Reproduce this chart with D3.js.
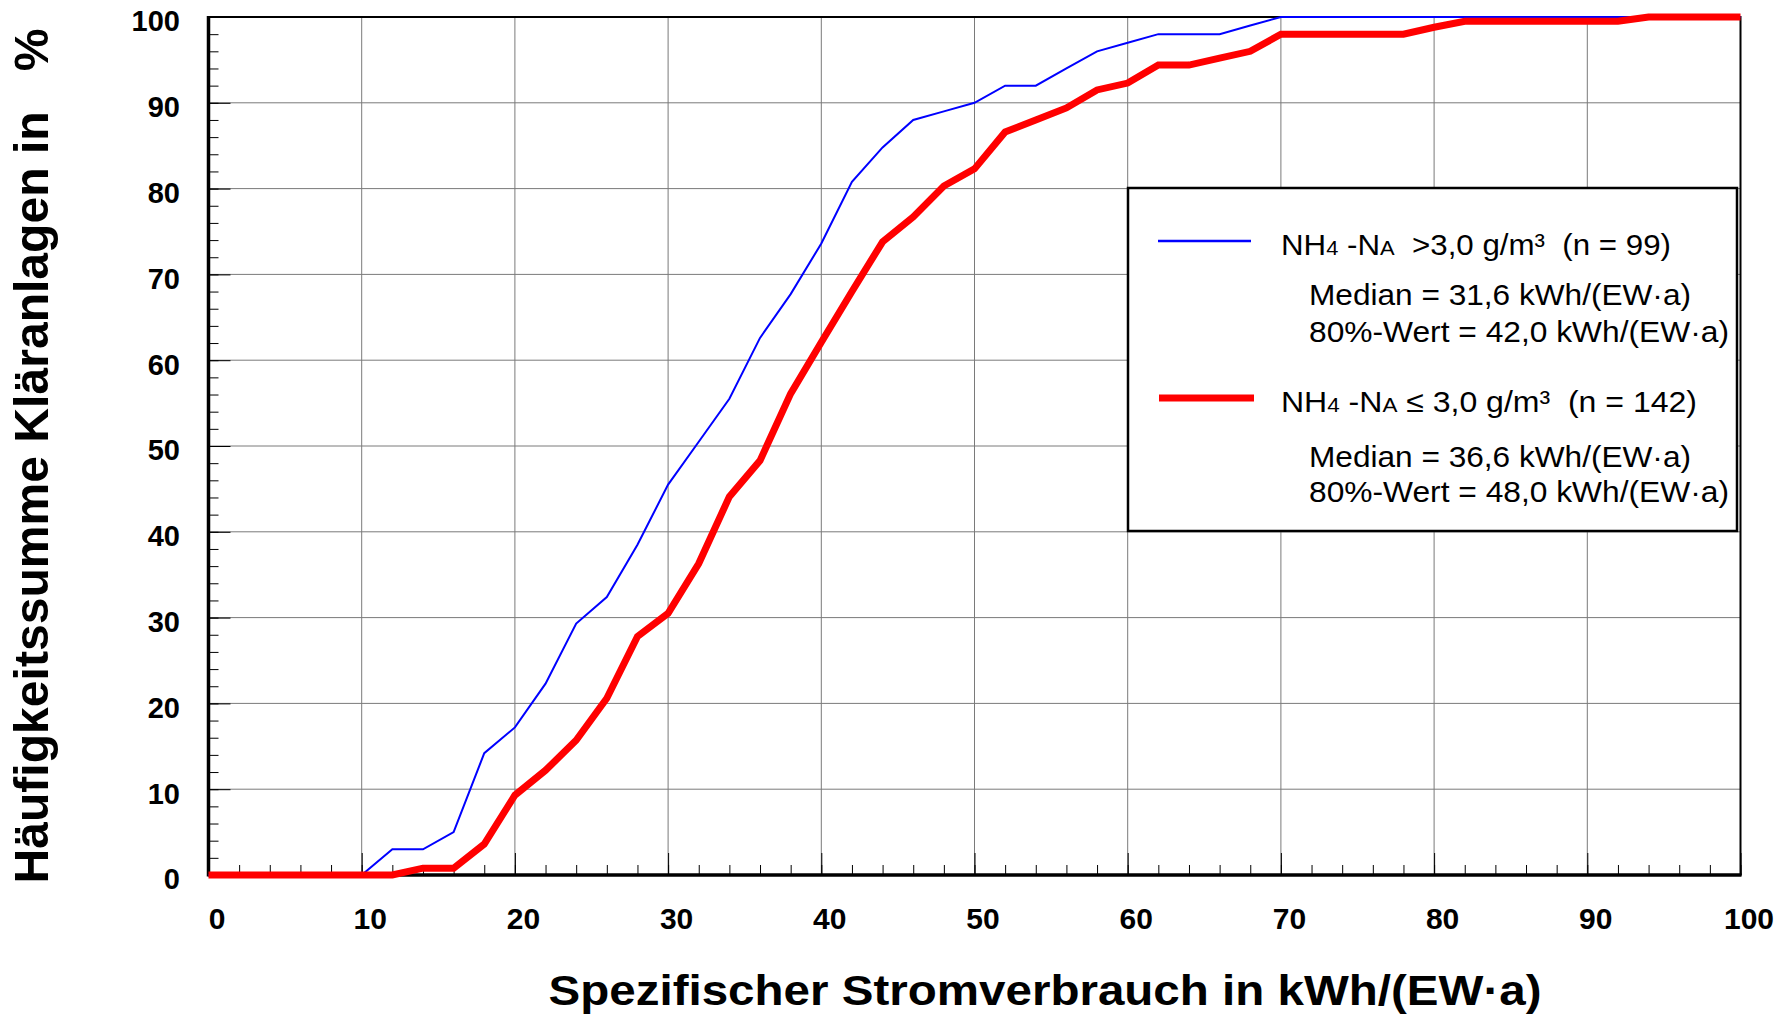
<!DOCTYPE html>
<html>
<head>
<meta charset="utf-8">
<script src="https://cdn.jsdelivr.net/npm/d3@7"></script>
<style>
  body { margin: 0; background: #fff; }
  svg text { font-family: "Liberation Sans", Arial, sans-serif; white-space: pre; }
</style>
</head>
<body>
<script>
// x positions of the points (kWh/(EW·a))
var xValues = [0, 2, 4, 6, 8, 10, 12, 14, 16, 18, 20, 22, 24, 26, 28, 30, 32, 34, 36, 38, 40,
               42, 44, 46, 48, 50, 52, 54, 56, 58, 60, 62, 64, 66, 68, 70, 72, 74, 76, 78, 80,
               82, 84, 86, 88, 90, 92, 94, 96, 98, 100];

// NH4-N > 3,0 g/m³ (n = 99)
var blueValues = [0, 0, 0, 0, 0, 0, 3, 3, 5, 14.2, 17.2, 22.3, 29.3, 32.4, 38.5, 45.5, 50.5, 55.5, 62.6, 67.7, 73.6,
                  80.8, 84.8, 88, 89, 90, 92, 92, 94, 96, 97, 98, 98, 98, 99, 100, 100, 100, 100, 100, 100,
                  100, 100, 100, 100, 100, 100, 100, 100, 100, 100];

// NH4-N <= 3,0 g/m³ (n = 142)
var redValues = [0, 0, 0, 0, 0, 0, 0, 0.8, 0.8, 3.6, 9.3, 12.2, 15.7, 20.6, 27.8, 30.5, 36.3, 44.1, 48.3, 56.1, 62.1,
                 68, 73.8, 76.7, 80.3, 82.3, 86.6, 88, 89.4, 91.5, 92.3, 94.4, 94.4, 95.2, 96, 98, 98, 98, 98, 98, 98.8,
                 99.5, 99.5, 99.5, 99.5, 99.5, 99.5, 100, 100, 100, 100];

var xTicks = [0, 10, 20, 30, 40, 50, 60, 70, 80, 90, 100];
var yTicks = [0, 10, 20, 30, 40, 50, 60, 70, 80, 90, 100];
var minorTicks = [0, 2, 4, 6, 8, 10, 12, 14, 16, 18, 20, 22, 24, 26, 28, 30, 32, 34, 36, 38, 40,
                  42, 44, 46, 48, 50, 52, 54, 56, 58, 60, 62, 64, 66, 68, 70, 72, 74, 76, 78, 80,
                  82, 84, 86, 88, 90, 92, 94, 96, 98, 100];

var W = 1787, H = 1016;
var pLeft = 208.5, pRight = 1740.5, pTop = 17, pBottom = 875;

var svg = d3.select("body").append("svg")
    .attr("width", W)
    .attr("height", H);

var x = d3.scaleLinear().domain([0, 100]).range([pLeft, pRight]);
var y = d3.scaleLinear().domain([0, 100]).range([pBottom, pTop]);

// -- grid --
var grid = svg.append("g").attr("stroke", "#7a7a7a").attr("stroke-width", 1);
grid.selectAll(".gx").data(xTicks).enter().append("line")
    .attr("x1", d => x(d)).attr("x2", d => x(d))
    .attr("y1", pTop).attr("y2", pBottom);
grid.selectAll(".gy").data(yTicks).enter().append("line")
    .attr("x1", pLeft).attr("x2", pRight)
    .attr("y1", d => y(d)).attr("y2", d => y(d));

// -- minor ticks (inside) --
svg.append("g")
    .attr("transform", "translate(0," + pBottom + ")")
    .call(d3.axisBottom(x).tickValues(minorTicks).tickSize(-10).tickFormat(""))
    .call(g => g.select(".domain").remove());
svg.append("g")
    .attr("transform", "translate(" + pLeft + ",0)")
    .call(d3.axisLeft(y).tickValues(minorTicks).tickSize(-10).tickFormat(""))
    .call(g => g.select(".domain").remove());

// -- major ticks + labels --
var xAxis = svg.append("g")
    .attr("transform", "translate(0," + pBottom + ")")
    .call(d3.axisBottom(x).tickValues(xTicks).tickSize(-22).tickPadding(32.5));
xAxis.select(".domain").remove();
xAxis.selectAll("text")
    .attr("font-size", 30)
    .attr("font-weight", "bold")
    .attr("font-family", "Liberation Sans")
    .attr("dx", 8)
    .attr("fill", "#000");

var yAxis = svg.append("g")
    .attr("transform", "translate(" + pLeft + ",0)")
    .call(d3.axisLeft(y).tickValues(yTicks).tickSize(-22).tickPadding(28.5));
yAxis.select(".domain").remove();
yAxis.selectAll("text")
    .attr("font-size", 29)
    .attr("font-weight", "bold")
    .attr("font-family", "Liberation Sans")
    .attr("dy", "0.48em")
    .attr("fill", "#000");

svg.selectAll(".tick line").attr("stroke", "#000").attr("stroke-width", 1);

// -- frame --
svg.append("rect")
    .attr("x", pLeft).attr("y", pTop)
    .attr("width", pRight - pLeft).attr("height", pBottom - pTop)
    .attr("fill", "none").attr("stroke", "#000").attr("stroke-width", 2);
svg.append("line").attr("x1", pLeft).attr("x2", pLeft).attr("y1", pTop - 1).attr("y2", pBottom + 1.5)
    .attr("stroke", "#000").attr("stroke-width", 3.5);
svg.append("line").attr("x1", pLeft).attr("x2", pRight + 1).attr("y1", pBottom).attr("y2", pBottom)
    .attr("stroke", "#000").attr("stroke-width", 3.5);

// -- lines --
var line = d3.line()
    .x((d, i) => x(xValues[i]))
    .y(d => y(d));

svg.append("path")
    .datum(blueValues)
    .attr("d", line)
    .attr("fill", "none")
    .attr("stroke", "#0000ff")
    .attr("stroke-width", 2);

svg.append("path")
    .datum(redValues)
    .attr("d", line)
    .attr("fill", "none")
    .attr("stroke", "#ff0000")
    .attr("stroke-width", 7)
    .attr("stroke-linejoin", "miter");

// -- legend --
var lg = svg.append("g");
lg.append("rect")
    .attr("x", 1128).attr("y", 188)
    .attr("width", 609).attr("height", 343)
    .attr("fill", "#fff").attr("stroke", "#000").attr("stroke-width", 2.5);

lg.append("line").attr("x1", 1158).attr("x2", 1251).attr("y1", 241).attr("y2", 241)
    .attr("stroke", "#0000ff").attr("stroke-width", 2.5);
lg.append("line").attr("x1", 1159).attr("x2", 1254).attr("y1", 398).attr("y2", 398)
    .attr("stroke", "#ff0000").attr("stroke-width", 7);

function nhLabel(yPos, rest, len) {
    var t = lg.append("text")
        .attr("x", 1281).attr("y", yPos)
        .attr("font-size", 30)
        .attr("textLength", len)
        .attr("lengthAdjust", "spacingAndGlyphs");
    t.append("tspan").text("NH");
    t.append("tspan").attr("font-size", 21).text("4");
    t.append("tspan").text(" -N");
    t.append("tspan").attr("font-size", 21).text("A");
    t.append("tspan").text(rest);
}
function plainLabel(yPos, txt, len) {
    lg.append("text")
        .attr("x", 1309).attr("y", yPos)
        .attr("font-size", 30)
        .attr("textLength", len)
        .attr("lengthAdjust", "spacingAndGlyphs")
        .text(txt);
}

nhLabel(255, "  >3,0 g/m³  (n = 99)", 390);
plainLabel(305, "Median = 31,6 kWh/(EW·a)", 382);
plainLabel(342, "80%-Wert = 42,0 kWh/(EW·a)", 420);
nhLabel(412, " ≤ 3,0 g/m³  (n = 142)", 416);
plainLabel(467, "Median = 36,6 kWh/(EW·a)", 382);
plainLabel(502, "80%-Wert = 48,0 kWh/(EW·a)", 420);

// -- axis titles --
svg.append("text")
    .attr("x", 1045).attr("y", 1005)
    .attr("text-anchor", "middle")
    .attr("font-size", 43)
    .attr("font-weight", "bold")
    .attr("textLength", 993)
    .attr("lengthAdjust", "spacingAndGlyphs")
    .text("Spezifischer Stromverbrauch in kWh/(EW·a)");

svg.append("text")
    .attr("transform", "translate(48,456) rotate(-90)")
    .attr("text-anchor", "middle")
    .attr("font-size", 48)
    .attr("font-weight", "bold")
    .attr("textLength", 855)
    .attr("lengthAdjust", "spacingAndGlyphs")
    .text("Häufigkeitssumme Kläranlagen in   %");
</script>
</body>
</html>
